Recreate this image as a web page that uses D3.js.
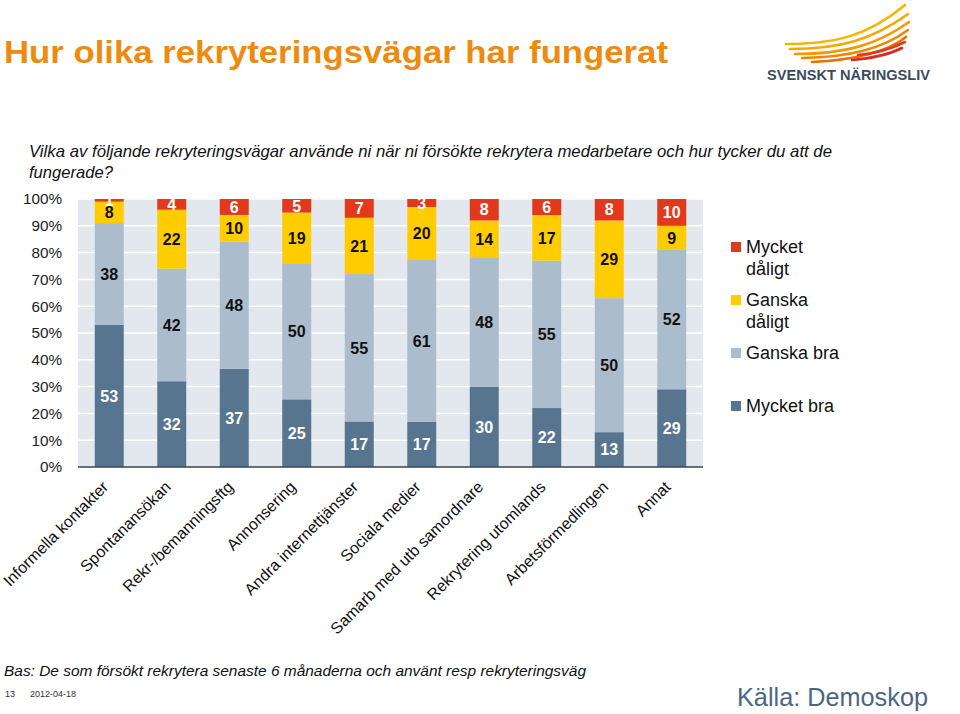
<!DOCTYPE html>
<html><head><meta charset="utf-8">
<script src="https://cdn.jsdelivr.net/npm/d3@7/dist/d3.min.js"></script>
<style>
body{margin:0;background:#fff;}
svg{display:block;font-family:"Liberation Sans",Arial,sans-serif;}
</style></head><body>
<svg id="chart" width="960" height="714"></svg>
<script>
const categories = ["Informella kontakter","Spontanansökan","Rekr-/bemanningsftg","Annonsering","Andra internettjänster","Sociala medier","Samarb med utb samordnare","Rekrytering utomlands","Arbetsförmedlingen","Annat"];
const seriesNames = ["Mycket bra","Ganska bra","Ganska dåligt","Mycket dåligt"];
const mycketBra    = [53,32,37,25,17,17,30,22,13,29];
const ganskaBra    = [38,42,48,50,55,61,48,55,50,52];
const ganskaDaligt = [8,22,10,19,21,20,14,17,29,9];
const mycketDaligt = [1,4,6,5,7,3,8,6,8,10];
const yTicks = [0,10,20,30,40,50,60,70,80,90,100];
const colors = ["#587590","#abbdcd","#ffcc00","#e2391d"];
const labelColors = ["#ffffff","#111111","#111111","#ffffff"];

const svg = d3.select("#chart");

// Title & subtitle
svg.append("text").attr("x",4).attr("y",63).attr("fill","#ee8a10")
  .attr("font-family","'Liberation Sans Narrow','Arial Narrow','Liberation Sans',Arial,sans-serif")
  .attr("font-weight","bold").attr("font-size",31).attr("textLength",664).attr("lengthAdjust","spacingAndGlyphs")
  .text("Hur olika rekryteringsvägar har fungerat");
svg.append("text").attr("x",29).attr("y",157).attr("font-style","italic").attr("font-size",16.6).attr("fill","#111")
  .attr("textLength",803).attr("lengthAdjust","spacingAndGlyphs")
  .text("Vilka av följande rekryteringsvägar använde ni när ni försökte rekrytera medarbetare och hur tycker du att de");
svg.append("text").attr("x",29).attr("y",178).attr("font-style","italic").attr("font-size",16.6).attr("fill","#111")
  .text("fungerade?");

// Plot
const x0 = 78, x1 = 703, yTop = 199, yBot = 467;
const x = d3.scaleBand().domain(categories).range([x0,x1]).paddingInner(0.536).paddingOuter(0.268);
const y = d3.scaleLinear().domain([0,1]).range([yBot,yTop]);

svg.append("defs").append("clipPath").attr("id","plotclip")
  .append("rect").attr("x",x0).attr("y",yTop).attr("width",x1-x0).attr("height",yBot-yTop);

svg.append("rect").attr("x",x0).attr("y",yTop).attr("width",x1-x0).attr("height",yBot-yTop).attr("fill","#e3e8ef");
svg.append("g").selectAll("line").data(yTicks.slice(1)).join("line")
  .attr("x1",x0).attr("x2",x1).attr("y1",d=>y(d/100)).attr("y2",d=>y(d/100))
  .attr("stroke","#fff").attr("stroke-width",1.5);

const rows = categories.map((c,i)=>({cat:c,"Mycket bra":mycketBra[i],"Ganska bra":ganskaBra[i],"Ganska dåligt":ganskaDaligt[i],"Mycket dåligt":mycketDaligt[i]}));
const stack = d3.stack().keys(seriesNames).offset(d3.stackOffsetExpand)(rows);

const gBars = svg.append("g");
stack.forEach((s,si)=>{
  gBars.append("g").selectAll("rect").data(s).join("rect")
    .attr("x",d=>x(d.data.cat)).attr("width",x.bandwidth())
    .attr("y",d=>y(d[1])).attr("height",d=>y(d[0])-y(d[1]))
    .attr("fill",colors[si]);
});
const gLabels = svg.append("g").attr("clip-path","url(#plotclip)");
stack.forEach((s,si)=>{
  gLabels.append("g").selectAll("text").data(s).join("text")
    .attr("x",d=>x(d.data.cat)+x.bandwidth()/2)
    .attr("y",d=>(y(d[0])+y(d[1]))/2).attr("dy","0.36em")
    .attr("text-anchor","middle").attr("font-weight","bold").attr("font-size",16)
    .attr("fill",labelColors[si]).text(d=>d.data[s.key]);
});

// axis line
svg.append("line").attr("x1",x0).attr("x2",x1).attr("y1",yBot).attr("y2",yBot).attr("stroke","#3b4650").attr("stroke-width",1.5);

// y axis labels
const yAxis = d3.axisLeft(d3.scaleLinear().domain([0,100]).range([yBot,yTop])).tickValues(yTicks).tickFormat(d=>d+"%").tickSize(0).tickPadding(0);
const gy = svg.append("g").attr("transform",`translate(62,0)`).call(yAxis);
gy.select(".domain").remove();
gy.selectAll("text").attr("font-size",15.3).attr("fill","#222").attr("font-family","'Liberation Sans',Arial,sans-serif");

// x axis labels
const xAxis = d3.axisBottom(x).tickSize(0).tickPadding(0);
const gx = svg.append("g").attr("transform",`translate(0,${yBot})`).call(xAxis);
gx.select(".domain").remove();
gx.selectAll("text").attr("font-size",16).attr("fill","#111").attr("font-family","'Liberation Sans',Arial,sans-serif")
  .attr("text-anchor","end").attr("dy","0").attr("y",0)
  .attr("transform","translate(0,21) rotate(-45)");

// Legend
const legend = [
  {c:colors[3], lines:["Mycket","dåligt"], y:253},
  {c:colors[2], lines:["Ganska","dåligt"], y:306},
  {c:colors[1], lines:["Ganska bra"], y:359},
  {c:colors[0], lines:["Mycket bra"], y:412}
];
const gl = svg.append("g");
legend.forEach(l=>{
  gl.append("rect").attr("x",731).attr("y",l.y-11).attr("width",10).attr("height",10).attr("fill",l.c);
  l.lines.forEach((t,i)=>gl.append("text").attr("x",746).attr("y",l.y+i*22).attr("font-size",18).attr("fill","#111").text(t));
});

// Footer
svg.append("text").attr("x",4).attr("y",676).attr("font-style","italic").attr("font-size",15.4).attr("fill","#111")
  .attr("textLength",582).attr("lengthAdjust","spacingAndGlyphs")
  .text("Bas: De som försökt rekrytera senaste 6 månaderna och använt resp rekryteringsväg");
svg.append("text").attr("x",5).attr("y",697).attr("font-size",9).attr("fill","#333").text("13");
svg.append("text").attr("x",30).attr("y",697).attr("font-size",9).attr("fill","#333").text("2012-04-18");
svg.append("text").attr("x",737).attr("y",706).attr("font-size",25).attr("fill","#4d6680")
  .attr("textLength",191).attr("lengthAdjust","spacingAndGlyphs").text("Källa: Demoskop");

// Logo
const lg = svg.append("g");
const feathers = [
  {d:"M786,44 C835,44 868,36 905,5", c:"#f7b500"},
  {d:"M790,49 C840,49 872,40 908,14", c:"#f6a800"},
  {d:"M795,54 C845,54 877,45 909,22", c:"#f39a00"},
  {d:"M802,58 C850,57 882,49 908,30", c:"#f08600"},
  {d:"M812,62 C855,60 886,53 906,37", c:"#ec6c0a"},
  {d:"M858,55 C880,53 895,47 905,42", c:"#e03d1c"},
  {d:"M852,60 C876,58 892,53 902,48", c:"#d82a1e"}
];
lg.selectAll("path").data(feathers).join("path").attr("d",d=>d.d).attr("fill","none")
  .attr("stroke",d=>d.c).attr("stroke-width",2.6).attr("stroke-linecap","round");
lg.append("text").attr("x",767).attr("y",80).attr("font-weight","bold").attr("font-size",15.5)
  .attr("fill","#3c4c5c").attr("textLength",163).attr("lengthAdjust","spacingAndGlyphs").text("SVENSKT NÄRINGSLIV");
</script>
</body></html>
